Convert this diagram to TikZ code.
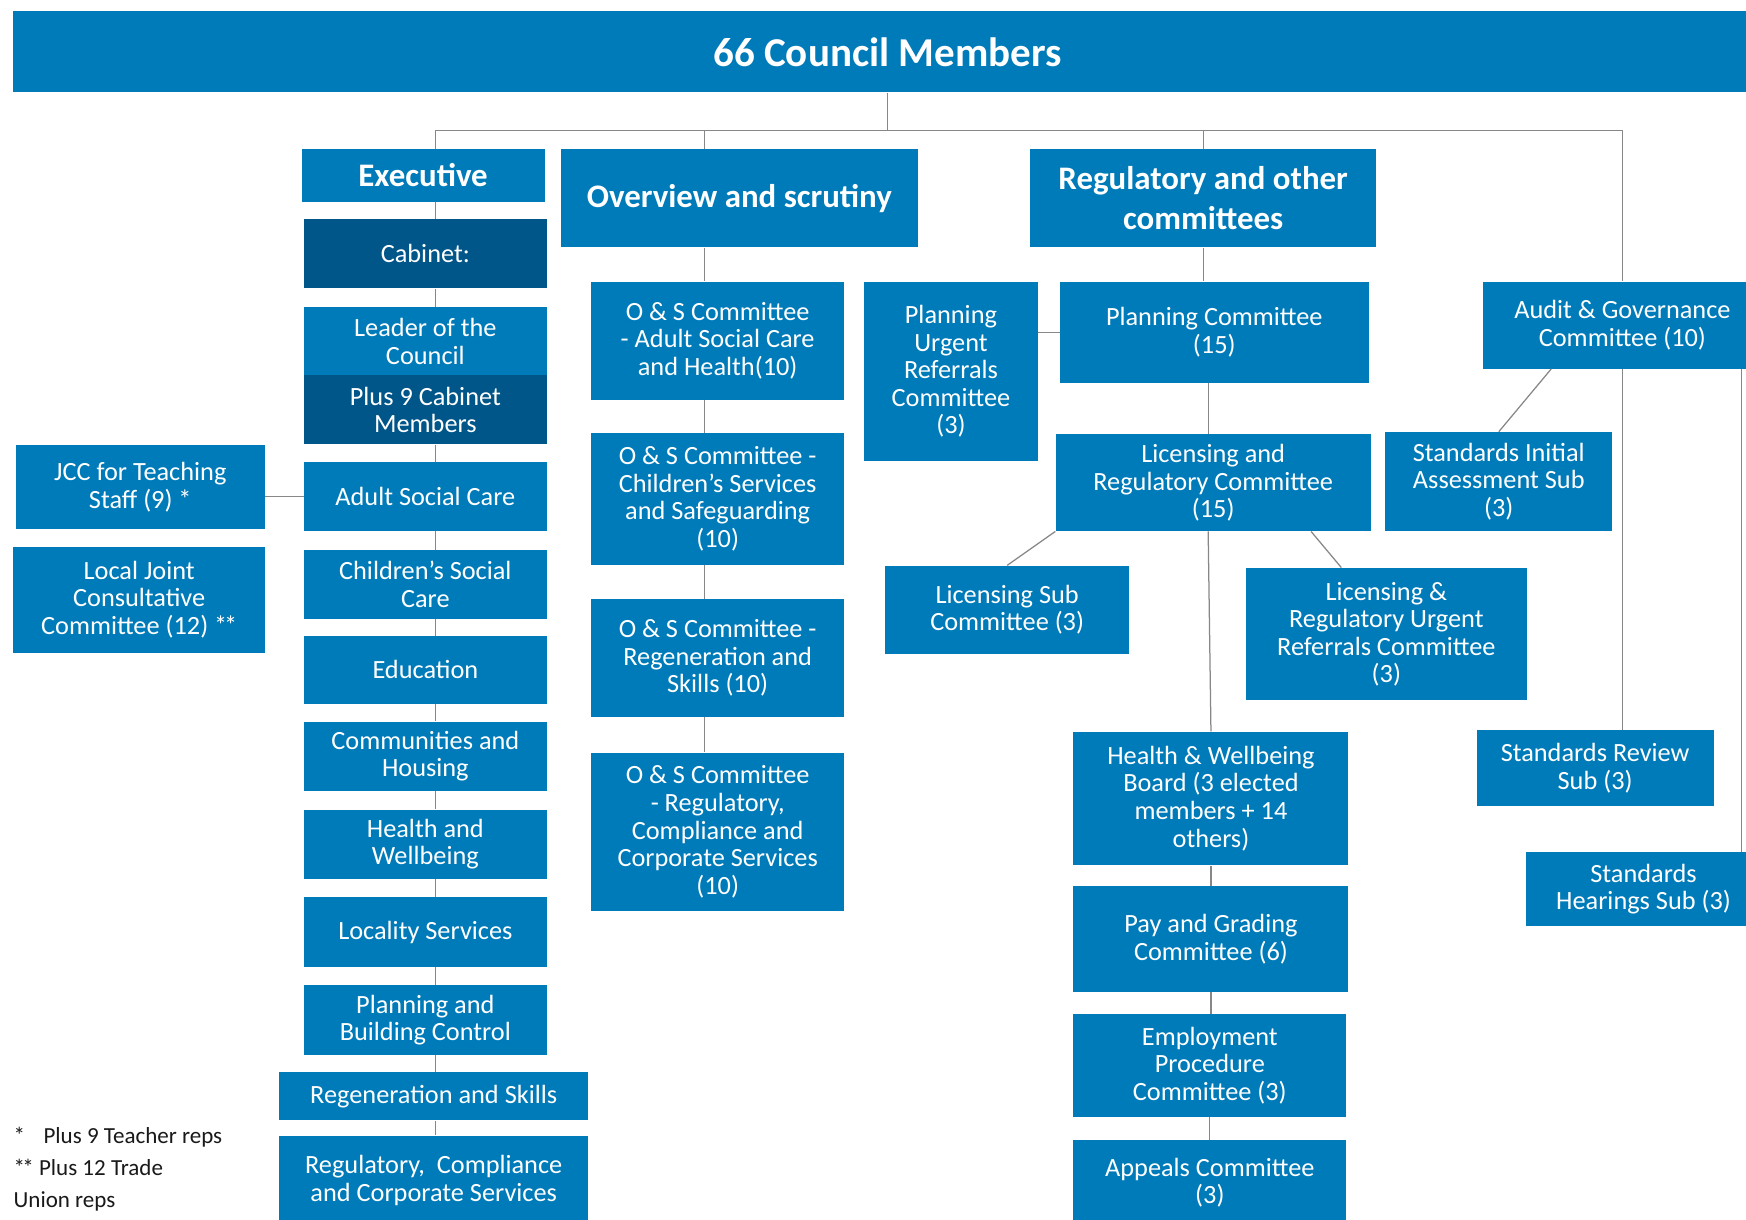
\documentclass[tikz,border=0pt]{standalone}
\usepackage{fontspec}
\setmainfont{Carlito}
\usetikzlibrary{calc}
\definecolor{cblue}{RGB}{0,123,185}
\definecolor{cdark}{RGB}{0,85,137}
\definecolor{cline}{RGB}{135,135,135}
\newcommand{\dstar}{*\kern-0.12em*}

\begin{document}
\begin{tikzpicture}[x=0.025cm,y=-0.025cm,
	box/.style={fill=cblue,text=white,align=center,inner sep=0pt,
		font=\fontsize{16.8}{17.6}\selectfont},
	dbox/.style={box,fill=cdark},
	head/.style={box,font=\fontsize{21}{25.6}\selectfont\bfseries},
	sz/.style 2 args={minimum width=#1*0.025cm,minimum height=#2*0.025cm},
	link/.style={draw=cline,line width=0.8pt}]
	\useasboundingbox (0,0) rectangle (1568,1095);
	\clip (0,0) rectangle (1568,1095);

	% top bar and the three headings
	\node[head,sz={1570}{73},font=\fontsize{26.2}{30}\selectfont\bfseries] (council) at (797,46.5) {66 Council Members};
	\node[head,sz={218}{47}] (exec) at (380,157.5) {Executive};
	\node[head,sz={320}{88}] (ovs) at (664,178) {Overview and scrutiny};
	\node[head,sz={311}{88}] (regc) at (1080.5,178) {Regulatory and other\\committees};

	% executive column
	\node[dbox,sz={218}{62}] (cab) at (382,228) {Cabinet:};
	\node[box,sz={218}{61}] (lead) at (382,306.5) {Leader of the\\Council};
	\node[dbox,sz={218}{62}] (plus) at (382,368) {Plus 9 Cabinet\\Members};
	\node[box,sz={218}{62}] (asc) at (382,446) {Adult Social Care};
	\node[box,sz={218}{62}] (csc) at (382,525) {Children’s Social\\Care};
	\node[box,sz={218}{61}] (edu) at (382,601.5) {Education};
	\node[box,sz={218}{62}] (comm) at (382,679) {Communities and\\Housing};
	\node[box,sz={218}{62}] (hw) at (382,758) {Health and\\Wellbeing};
	\node[box,sz={218}{62}] (loc) at (382,837) {Locality Services};
	\node[box,sz={218}{62}] (pbc) at (382,916) {Planning and\\Building Control};
	\node[box,sz={277}{43}] (regen) at (389.5,984.5) {Regeneration and Skills};
	\node[box,sz={277}{80}] (rcc) at (389.5,1060) {Regulatory,~~Compliance\\and Corporate Services};

	\node[box,sz={224}{75}] (jcc) at (126,437.5) {JCC for Teaching\\Staff (9) *};
	\node[box,sz={226}{95}] (ljcc) at (125,538.5) {Local Joint\\Consultative\\Committee (12) \dstar};

	\node[anchor=north west,align=left,inner sep=0pt,text=black!90,
		font=\fontsize{14.7}{20.4}\selectfont] (notes) at (12,1012)
		{*\hspace{0.8em}Plus 9 Teacher reps\\\dstar{} Plus 12 Trade\\Union reps};

	% overview and scrutiny column
	\node[box,sz={227}{106}] (os1) at (644.5,306) {O \& S Committee\\- Adult Social Care\\and Health(10)};
	\node[box,sz={227}{118}] (os2) at (644.5,448) {O \& S Committee -\\Children’s Services\\and Safeguarding\\(10)};
	\node[box,sz={227}{106}] (os3) at (644.5,591) {O \& S Committee -\\Regeneration and\\Skills (10)};
	\node[box,sz={227}{142}] (os4) at (644.5,747) {O \& S Committee\\- Regulatory,\\Compliance and\\Corporate Services\\(10)};

	% regulatory and other committees
	\node[box,sz={156}{161}] (purc) at (854,333.5) {Planning\\Urgent\\Referrals\\Committee\\(3)};
	\node[box,sz={277}{91}] (planc) at (1090.5,298.5) {Planning Committee\\(15)};
	\node[box,sz={283}{87}] (lrc) at (1089.5,433.5) {Licensing and\\Regulatory Committee\\(15)};
	\node[box,sz={219}{79}] (lsc) at (904.5,547.5) {Licensing Sub\\Committee (3)};
	\node[box,sz={252}{119}] (lrurc) at (1245,569.5) {Licensing \&\\Regulatory Urgent\\Referrals Committee\\(3)};
	\node[box,sz={247}{120}] (hwb) at (1087.5,717) {Health \& Wellbeing\\Board (3 elected\\members + 14\\others)};
	\node[box,sz={247}{95}] (pay) at (1087.5,843.5) {Pay and Grading\\Committee (6)};
	\node[box,sz={245}{92}] (emp) at (1086.5,957) {Employment\\Procedure\\Committee (3)};
	\node[box,sz={245}{76}] (appeal) at (1086.5,1062) {Appeals Committee\\(3)};

	\node[box,sz={250}{78}] (audit) at (1457,292) {Audit \& Governance\\Committee (10)};
	\node[box,sz={204}{89}] (sia) at (1346,432.5) {Standards Initial\\Assessment Sub\\(3)};
	\node[box,sz={213}{68}] (srs) at (1432.5,690) {Standards Review\\Sub (3)};
	\node[box,sz={212}{67}] (shs) at (1476,798.5) {Standards\\Hearings Sub (3)};

	% connectors
	\coordinate (bus) at (0,117);
	\coordinate (spine) at (391,0);
	\coordinate (ospine) at (633,0);
	\coordinate (rspine) at (1085,0);
	\coordinate (aright) at (1564,0);

	\draw[link] (council.south) -- (council.south |- bus);
	\draw[link] (exec.north -| spine) -- (spine |- bus) -- (audit.north |- bus) -- (audit.north);
	\draw[link] (ovs.north -| ospine) -- (ospine |- bus);
	\draw[link] (regc.north) -- (regc.north |- bus);

	\foreach \a/\b in {exec/cab,cab/lead,plus/asc,asc/csc,csc/edu,edu/comm,comm/hw,hw/loc,loc/pbc,pbc/regen,regen/rcc}
		\draw[link] (\a.south -| spine) -- (\b.north -| spine);
	\draw[link] (asc.west -| jcc.east) -- (asc.west);

	\foreach \a/\b in {ovs/os1,os1/os2,os2/os3,os3/os4}
		\draw[link] (\a.south -| ospine) -- (\b.north -| ospine);

	\draw[link] (regc.south) -- (regc.south |- planc.north);
	\draw[link] (planc.west) -- (planc.west -| purc.east);
	\draw[link] (planc.south -| rspine) -- (lrc.north -| rspine);
	\draw[link] (lrc.south -| rspine) -- (hwb.north);
	\foreach \a/\b in {hwb/pay,pay/emp,emp/appeal}
		\draw[link] (\a.south) -- (\a.south |- \b.north);
	\draw[link] (lrc.south west) -- (lsc.north);
	\draw[link] ($(lrc.south west)!0.81!(lrc.south east)$) -- ($(lrurc.north west)!0.34!(lrurc.north east)$);

	\draw[link] ($(audit.south west)!0.245!(audit.south east)$) -- (sia.north);
	\draw[link] (audit.south) -- (audit.south |- srs.north);
	\draw[link] (audit.south -| aright) -- (shs.north -| aright);
\end{tikzpicture}
\end{document}
